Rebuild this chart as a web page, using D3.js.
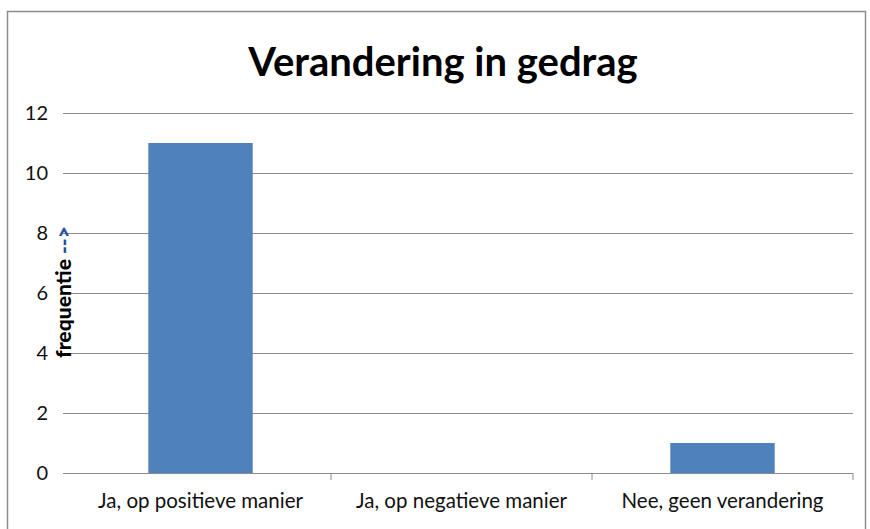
<!DOCTYPE html>
<html>
<head>
  <meta charset="utf-8">
  <script src="https://d3js.org/d3.v7.min.js"></script>
  <style>
    body { margin: 0; background: #fff; }
    text { font-family: Lato, "Open Sans", sans-serif; }
  </style>
</head>
<body>
  <div id="chart"></div>
<script>
  const categories = ["Ja, op positieve manier", "Ja, op negatieve manier", "Nee, geen verandering"];
  const values = [11, 0, 1];
  const yTicks = [0, 2, 4, 6, 8, 10, 12];

  const width = 870, height = 529;
  const plot = { left: 63, right: 853, top: 113, bottom: 473 };

  const svg = d3.select("#chart")
    .append("svg")
    .attr("width", width)
    .attr("height", height);

  // outer frame
  svg.append("rect")
    .attr("x", 7.5).attr("y", 11.5)
    .attr("width", 858).attr("height", 540)
    .attr("fill", "none")
    .attr("stroke", "#8c8c8c")
    .attr("stroke-width", 1.5);

  svg.append("text")
    .attr("x", 443).attr("y", 76)
    .attr("text-anchor", "middle")
    .style("font-size", "40px")
    .style("font-weight", "bold")
    .attr("fill", "#000")
    .text("Verandering in gedrag");

  const yScale = d3.scaleLinear().domain([0, 12]).range([plot.bottom, plot.top]);
  const xScale = d3.scaleBand().domain(categories).range([70, plot.right]);

  // gridlines
  svg.append("g")
    .selectAll("line")
    .data(yTicks)
    .join("line")
    .attr("x1", plot.left).attr("x2", plot.right)
    .attr("y1", d => yScale(d) + 0.5).attr("y2", d => yScale(d) + 0.5)
    .attr("stroke", "#8c8c8c")
    .attr("stroke-width", 1);

  // y tick labels
  const yAxis = svg.append("g")
    .attr("transform", `translate(${plot.left}, 0)`)
    .call(d3.axisLeft(yScale).tickValues(yTicks).tickSize(0).tickPadding(15));
  yAxis.select(".domain").remove();
  yAxis.selectAll("text")
    .style("font-size", "20px")
    .attr("fill", "#111");

  // bars
  svg.append("g")
    .selectAll("rect")
    .data(values)
    .join("rect")
    .attr("x", (d, i) => xScale(categories[i]) + xScale.bandwidth() * 0.3)
    .attr("width", xScale.bandwidth() * 0.4)
    .attr("y", d => yScale(d))
    .attr("height", d => yScale(0) - yScale(d))
    .attr("fill", "#4f81bd");

  // x axis
  const xAxis = svg.append("g")
    .attr("transform", `translate(0, ${plot.bottom})`)
    .call(d3.axisBottom(xScale).tickSize(0).tickPadding(20));
  xAxis.select(".domain").remove();
  xAxis.selectAll("text")
    .style("font-size", "20.5px")
    .attr("fill", "#111");

  svg.append("line")
    .attr("x1", plot.left).attr("x2", plot.right)
    .attr("y1", plot.bottom + 0.5).attr("y2", plot.bottom + 0.5)
    .attr("stroke", "#8c8c8c");

  // category separators
  svg.append("g")
    .selectAll("line")
    .data(categories.slice(1).concat([null]))
    .join("line")
    .attr("x1", d => d ? xScale(d) : plot.right)
    .attr("x2", d => d ? xScale(d) : plot.right)
    .attr("y1", plot.bottom).attr("y2", plot.bottom + 7)
    .attr("stroke", "#8c8c8c");

  // y axis title
  const yt = svg.append("text")
    .attr("transform", "translate(71, 358) rotate(-90)")
    .attr("textLength", 132)
    .attr("lengthAdjust", "spacingAndGlyphs")
    .style("font-size", "21px")
    .style("font-weight", "900")
    .attr("fill", "#000");
  yt.append("tspan").text("frequentie ");
  yt.append("tspan").attr("fill", "#1f4e9c").text("-->");
</script>
</body>
</html>
